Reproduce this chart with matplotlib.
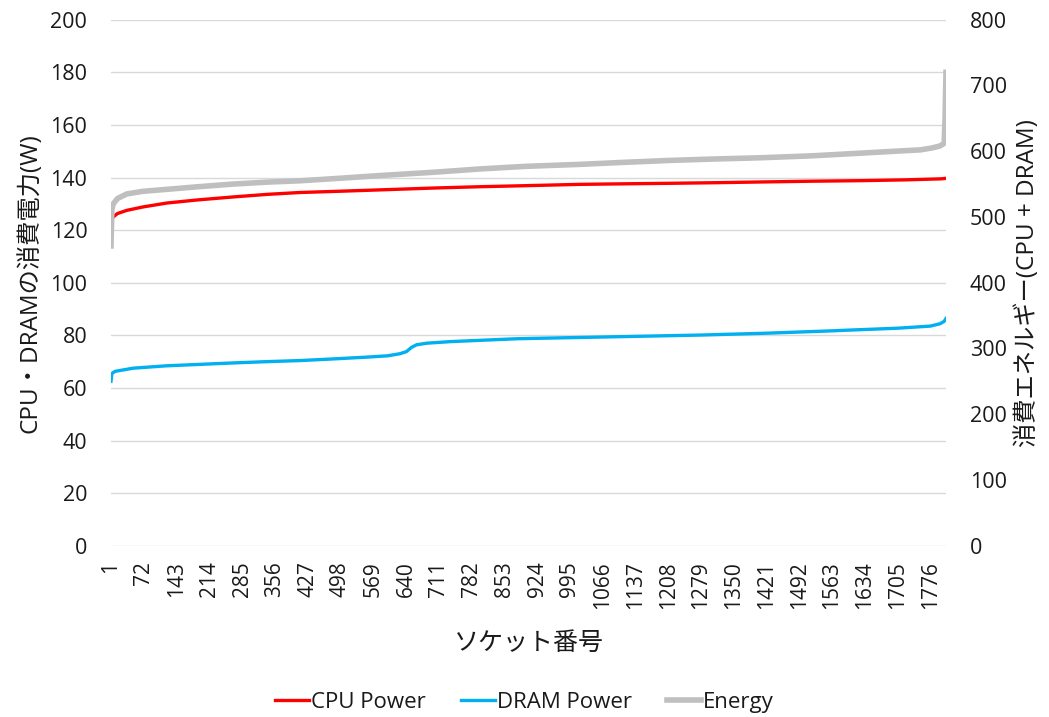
import numpy as np
from matplotlib import pyplot as plt

plt.rcParams['font.family'] = ['Open Sans', 'Noto Sans CJK JP', 'DejaVu Sans']

# sorted per-socket values at key sockets
cpu_x = [1, 3, 6, 15, 35, 70, 122, 190, 265, 340, 410, 500, 584, 700, 800, 900, 1017, 1110, 1212, 1300, 1407, 1520, 1624, 1720, 1800, 1810]
cpu_y = [122.5, 124.3, 125.0, 126.3, 127.5, 128.8, 130.3, 131.5, 132.6, 133.6, 134.3, 134.8, 135.3, 136.0, 136.5, 136.9, 137.4, 137.6, 137.8, 138.0, 138.3, 138.6, 138.8, 139.1, 139.5, 139.7]

dram_x = [1, 3, 10, 49, 121, 200, 266, 340, 411, 480, 555, 600, 627, 641, 652, 663, 685, 736, 881, 995, 1137, 1279, 1421, 1563, 1603, 1705, 1776, 1797, 1806, 1810]
dram_y = [62.5, 65.5, 66.3, 67.5, 68.4, 69.0, 69.5, 70.0, 70.4, 71.0, 71.7, 72.2, 73.0, 73.8, 75.4, 76.4, 77.0, 77.6, 78.7, 79.1, 79.6, 80.1, 80.8, 81.7, 82.0, 82.7, 83.5, 84.4, 85.3, 86.4]

energy_x = [1, 3, 6, 15, 35, 70, 122, 190, 265, 340, 410, 500, 584, 700, 800, 900, 1017, 1110, 1212, 1300, 1407, 1520, 1624, 1700, 1754, 1780, 1797, 1806, 1808, 1810]
energy_y = [456, 512, 520, 528, 535, 539, 542, 546, 550, 553, 555, 559, 563, 568, 573, 577, 580, 583, 586, 588, 590, 593, 597, 600, 602, 605, 608, 612, 650, 720]

x_ticks = list(range(1, 1777, 71))

txt = '#1a1a1a'
fig = plt.figure(figsize=(10.49, 7.17), dpi=100)
ax = fig.add_axes([0.1058, 0.2389, 0.796, 0.7336])
ax2 = ax.twinx()

l1, = ax.plot(cpu_x, cpu_y, color='#FF0000', lw=2.4, label='CPU Power', solid_joinstyle='round')
l2, = ax.plot(dram_x, dram_y, color='#00B0F0', lw=2.4, label='DRAM Power', solid_joinstyle='round')
l3, = ax2.plot(energy_x, energy_y, color='#BFBFBF', lw=4.0, label='Energy', solid_joinstyle='round')

ax.set_xlim(1, 1810)
ax.set_ylim(0, 200)
ax2.set_ylim(0, 800)
ax.set_yticks(range(0, 201, 20))
ax2.set_yticks(range(0, 801, 100))
ax.set_xticks(x_ticks)
ax.set_xticklabels([str(t) for t in x_ticks], rotation=90)

ax.grid(axis='y', color='#D9D9D9', lw=1.0)
ax.set_axisbelow(True)
for a in (ax, ax2):
    for s in a.spines.values():
        s.set_visible(False)
ax.tick_params(axis='y', length=0, pad=17, labelsize=15.5, labelcolor=txt)
ax.tick_params(axis='x', length=0, pad=11, labelsize=15, labelcolor=txt)
ax2.tick_params(axis='y', length=0, pad=17, labelsize=15.5, labelcolor=txt)

ax.set_ylabel('CPU・DRAMの消費電力(W)', fontsize=17.5, color=txt, labelpad=6)
ax2.set_ylabel('消費エネルギー(CPU + DRAM)', fontsize=17.5, color=txt, labelpad=6)
ax.set_xlabel('ソケット番号', fontsize=18, color=txt, labelpad=16)

fig.legend(handles=[l1, l2, l3], loc='lower center', bbox_to_anchor=(0.5, -0.022), ncol=3,
           frameon=False, fontsize=16, handlelength=1.5, handletextpad=0.1, columnspacing=1.6,
           labelcolor=txt)

plt.savefig('out.png', dpi=100)
plt.close()
